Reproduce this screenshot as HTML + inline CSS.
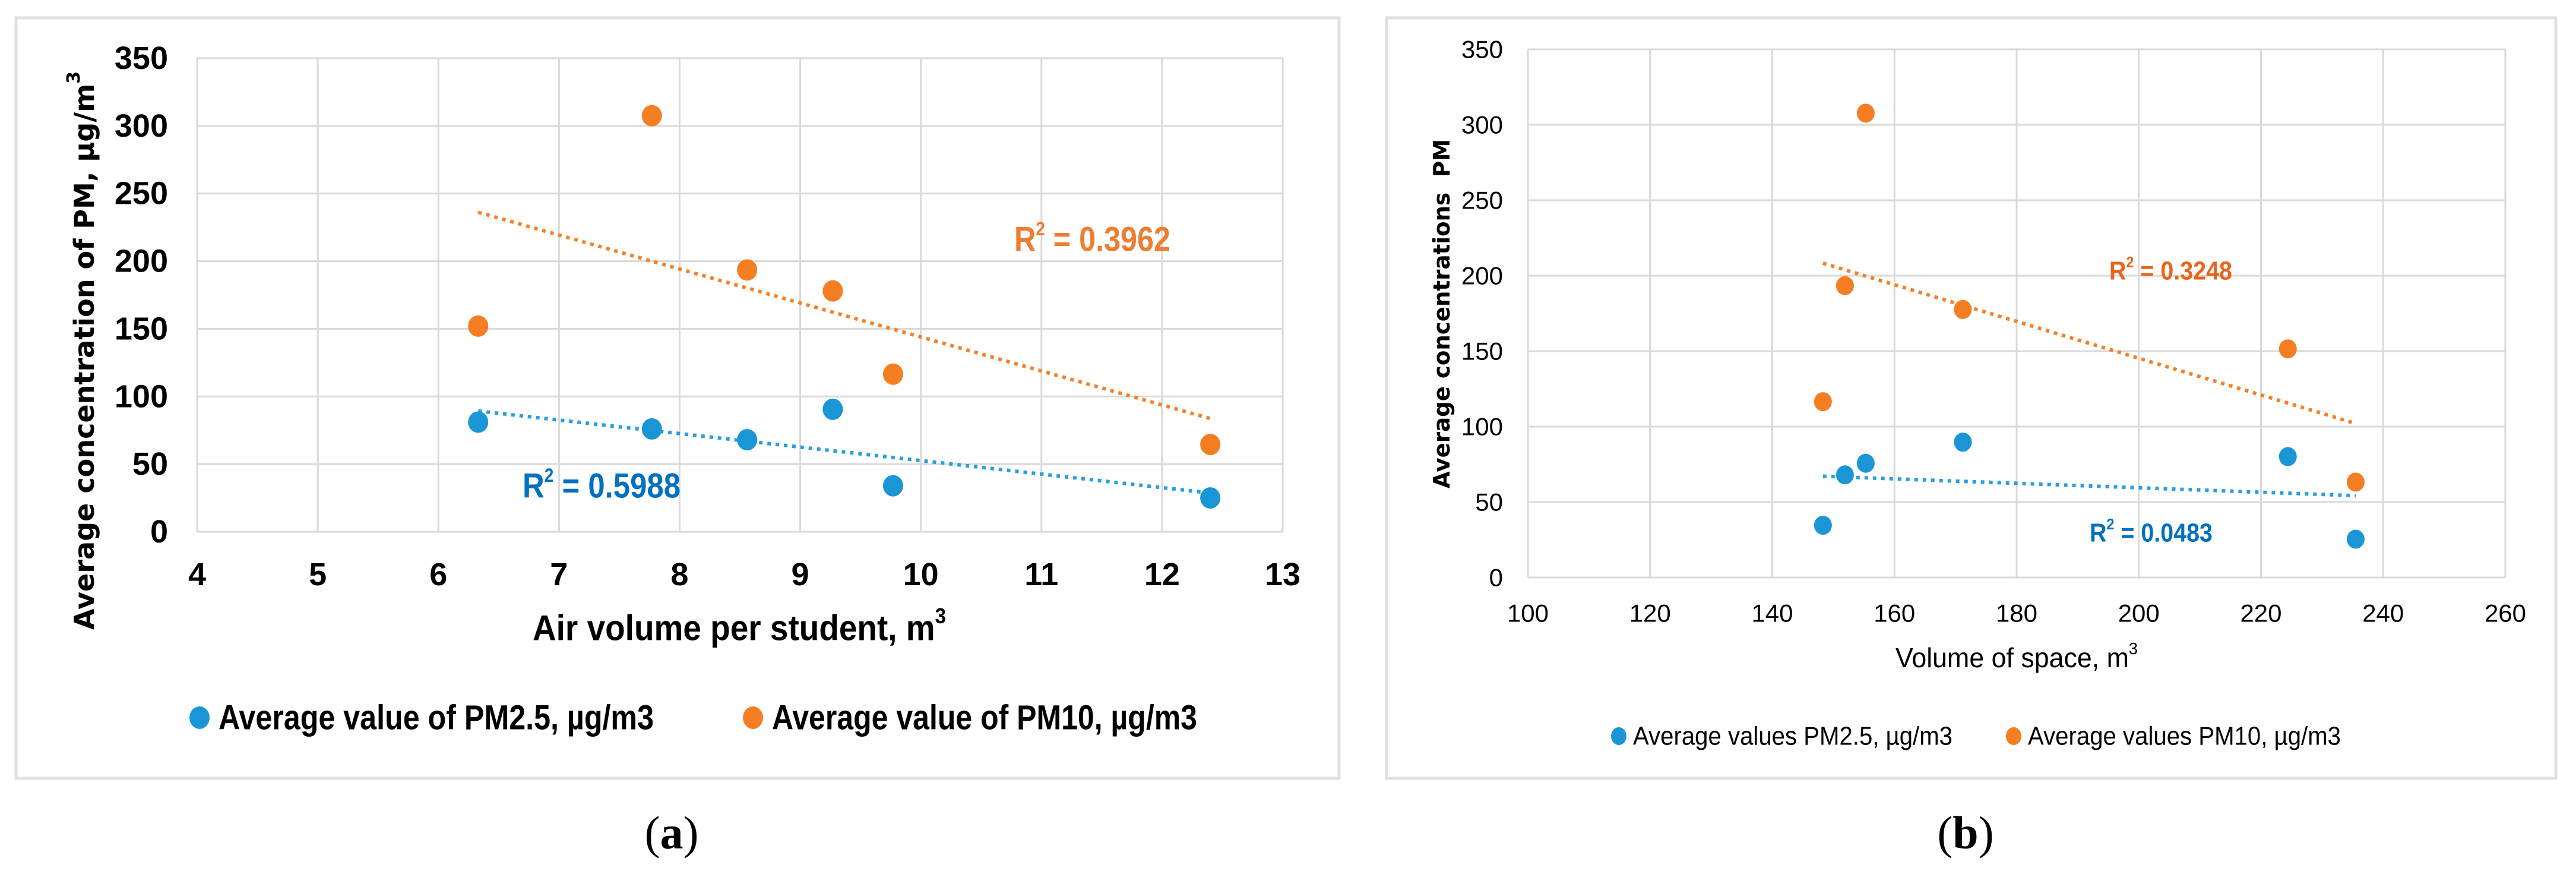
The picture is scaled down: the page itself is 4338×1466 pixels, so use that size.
<!DOCTYPE html>
<html><head><meta charset="utf-8"><style>
html,body{margin:0;padding:0;background:#fff}
svg{display:block}
</style></head><body>
<svg id="fig" xmlns="http://www.w3.org/2000/svg" width="4338" height="1466" viewBox="0 0 4338 1466">
<rect x="0" y="0" width="4338" height="1466" fill="#fff"/>
<rect x="27" y="30" width="2228" height="1280" fill="none" stroke="#e0e0e0" stroke-width="5"/>
<rect x="2335" y="30" width="1969" height="1280" fill="none" stroke="#e0e0e0" stroke-width="5"/>
<text x="1131" y="1428" font-family="Liberation Serif, serif" font-size="78" text-anchor="middle">(<tspan font-weight="bold">a</tspan>)</text>
<text x="3310" y="1428" font-family="Liberation Serif, serif" font-size="78" text-anchor="middle">(<tspan font-weight="bold">b</tspan>)</text>
<g id="ga"></g>
<g id="gb"></g>
</svg>
<script>
// Chart (a) data
const aX = [6.33, 7.77, 8.56, 9.27, 9.77, 12.40];
const aPM25 = [81, 76, 68, 90.5, 34, 25];
const aPM10 = [152, 307.5, 193.5, 178, 116.5, 64.5];
const aXTicks = [4,5,6,7,8,9,10,11,12,13];
const aYTicks = [0,50,100,150,200,250,300,350];
// Chart (b) data
const bX = [148.3, 151.9, 155.3, 171.2, 224.4, 235.5];
const bPM25 = [34.6, 68, 75.7, 89.7, 80.1, 25.4];
const bPM10 = [116.5, 193.4, 307.7, 177.6, 151.5, 63.2];
const bXTicks = [100,120,140,160,180,200,220,240,260];
const bYTicks = [0,50,100,150,200,250,300,350];

const NS = "http://www.w3.org/2000/svg";
const BLUE = "#1a96d6", ORANGE = "#f57d22", TBLUE = "#2a9fdc", TORANGE = "#f58025";
function mk(tag, attrs, parent, txt) {
  const e = document.createElementNS(NS, tag);
  for (const k in attrs) e.setAttribute(k, attrs[k]);
  if (txt !== undefined) e.textContent = txt;
  parent.appendChild(e);
  return e;
}
function fit(xs, ys) {
  const n = xs.length; let sx=0, sy=0, sxx=0, sxy=0;
  for (let i=0;i<n;i++){sx+=xs[i];sy+=ys[i];sxx+=xs[i]*xs[i];sxy+=xs[i]*ys[i];}
  const m = (n*sxy-sx*sy)/(n*sxx-sx*sx); return {m, b:(sy-m*sx)/n};
}
function chart(g, cfg) {
  const sx = v => cfg.x0 + (v - cfg.xmin) / (cfg.xmax - cfg.xmin) * (cfg.x1 - cfg.x0);
  const sy = v => cfg.y0 - (v - cfg.ymin) / (cfg.ymax - cfg.ymin) * (cfg.y0 - cfg.y1);
  cfg.xt.forEach(t => {
    const l = mk('line', {x1:sx(t), x2:sx(t), y1:cfg.y1, y2:cfg.y0, stroke:'#d9d9d9', 'stroke-width':3}, g);
    
    
    const tx = mk('text', {x:sx(t), y:cfg.xly, 'text-anchor':'middle', 'font-family':'Liberation Sans Narrow, Liberation Sans, sans-serif', 'font-size':cfg.tfs, 'font-weight':cfg.tfw, 'dominant-baseline':'central'}, g, t);
    
    
  });
  cfg.yt.forEach(t => {
    const l = mk('line', {x1:cfg.x0, x2:cfg.x1, y1:sy(t), y2:sy(t), stroke:'#d9d9d9', 'stroke-width':3}, g);
    
    
    const tx = mk('text', {x:cfg.ylx, y:sy(t), 'text-anchor':'end', 'font-family':'Liberation Sans Narrow, Liberation Sans, sans-serif', 'font-size':cfg.tfs, 'font-weight':cfg.tfw, 'dominant-baseline':'central'}, g, t);
    
    
  });
  [[cfg.p10, TORANGE, 'pm10-trendline'], [cfg.p25, TBLUE, 'pm25-trendline']].forEach(([ys, c, nm]) => {
    const f = fit(cfg.xs, ys);
    const xa = Math.min(...cfg.xs), xb = Math.max(...cfg.xs);
    const l = mk('line', {x1:sx(xa), y1:sy(f.m*xa+f.b), x2:sx(xb), y2:sy(f.m*xb+f.b), stroke:c, 'stroke-width':6, 'stroke-dasharray':'6 8'}, g);
    
    
  });
  [[cfg.p25, BLUE, 'pm25-point'], [cfg.p10, ORANGE, 'pm10-point']].forEach(([ys, c, nm]) => {
    ys.forEach((v, i) => {
      const e = mk('ellipse', {cx:sx(cfg.xs[i]), cy:sy(v), rx:cfg.r, ry:cfg.r+1, fill:c}, g);
      
      
    });
  });
}
const ga = document.getElementById('ga'), gb = document.getElementById('gb');
chart(ga, {x0:332, x1:2160, y0:895, y1:98, xmin:4, xmax:13, ymin:0, ymax:350, xt:aXTicks, yt:aYTicks, xs:aX, p25:aPM25, p10:aPM10, xly:967, ylx:283, tfs:54, tfw:'bold', r:17});
chart(gb, {x0:2573, x1:4219, y0:972, y1:83, xmin:100, xmax:260, ymin:0, ymax:350, xt:bXTicks, yt:bYTicks, xs:bX, p25:bPM25, p10:bPM10, xly:1032, ylx:2531, tfs:42, tfw:'normal', r:15});
</script>
<script>
(function(){
const svg = document.getElementById('fig');
const NS = "http://www.w3.org/2000/svg";
function t(attrs, html, name) {
  const e = document.createElementNS(NS, 'text');
  for (const k in attrs) e.setAttribute(k, attrs[k]);
  e.innerHTML = html;
  
  
  svg.appendChild(e);
  return e;
}
const N = 'Liberation Sans Narrow, Liberation Sans, sans-serif';
// Panel a texts
t({x:1245, y:1057, 'text-anchor':'middle', 'dominant-baseline':'central', 'font-family':N, 'font-size':60, 'font-weight':'bold', textLength:696, lengthAdjust:'spacingAndGlyphs'}, 'Air volume per student, m<tspan baseline-shift="super" font-size="36">3</tspan>', 'x-axis-title-a');
t({x:0, y:0, transform:'translate(142,590) rotate(-90)', 'text-anchor':'middle', 'dominant-baseline':'central', 'font-family':'DejaVu Sans, sans-serif', 'font-size':46, 'font-weight':'bold', textLength:940, lengthAdjust:'spacingAndGlyphs'}, 'Average concentration of PM, µg/m<tspan baseline-shift="super" font-size="30">3</tspan>', 'y-axis-title-a');
t({x:1708, y:403, 'dominant-baseline':'central', 'font-family':N, 'font-size':58, 'font-weight':'bold', fill:'#ed7d31', textLength:263, lengthAdjust:'spacingAndGlyphs'}, 'R<tspan baseline-shift="super" font-size="32">2</tspan> = 0.3962', 'r2-label-pm10-a');
t({x:880, y:818, 'dominant-baseline':'central', 'font-family':N, 'font-size':58, 'font-weight':'bold', fill:'#0070c0', textLength:266, lengthAdjust:'spacingAndGlyphs'}, 'R<tspan baseline-shift="super" font-size="32">2</tspan> = 0.5988', 'r2-label-pm25-a');
t({x:368, y:1208, 'dominant-baseline':'central', 'font-family':N, 'font-size':58, 'font-weight':'bold', textLength:733, lengthAdjust:'spacingAndGlyphs'}, 'Average value of PM2.5, µg/m3', 'legend-pm25-a');
t({x:1300, y:1208, 'dominant-baseline':'central', 'font-family':N, 'font-size':58, 'font-weight':'bold', textLength:716, lengthAdjust:'spacingAndGlyphs'}, 'Average value of PM10, µg/m3', 'legend-pm10-a');
// Panel b texts
t({x:3396, y:1107, 'text-anchor':'middle', 'dominant-baseline':'central', 'font-family':N, 'font-size':46, textLength:408, lengthAdjust:'spacingAndGlyphs'}, 'Volume of space, m<tspan baseline-shift="super" font-size="28">3</tspan>', 'x-axis-title-b');
t({x:0, y:0, transform:'translate(2428,528) rotate(-90)', 'text-anchor':'middle', 'dominant-baseline':'central', 'font-family':'DejaVu Sans, sans-serif', 'font-size':38, 'font-weight':'bold', textLength:588, lengthAdjust:'spacingAndGlyphs'}, 'Average concentrations&#160;&#160;PM', 'y-axis-title-b');
t({x:3552, y:456, 'dominant-baseline':'central', 'font-family':N, 'font-size':44, 'font-weight':'bold', fill:'#e8651a', textLength:207, lengthAdjust:'spacingAndGlyphs'}, 'R<tspan baseline-shift="super" font-size="26">2</tspan> = 0.3248', 'r2-label-pm10-b');
t({x:3519, y:897, 'dominant-baseline':'central', 'font-family':N, 'font-size':44, 'font-weight':'bold', fill:'#0070c0', textLength:207, lengthAdjust:'spacingAndGlyphs'}, 'R<tspan baseline-shift="super" font-size="26">2</tspan> = 0.0483', 'r2-label-pm25-b');
t({x:2750, y:1239, 'dominant-baseline':'central', 'font-family':N, 'font-size':44, textLength:538, lengthAdjust:'spacingAndGlyphs'}, 'Average values PM2.5, µg/m3', 'legend-pm25-b');
t({x:3415, y:1239, 'dominant-baseline':'central', 'font-family':N, 'font-size':44, textLength:527, lengthAdjust:'spacingAndGlyphs'}, 'Average values PM10, µg/m3', 'legend-pm10-b');
function dot(cx, cy, r, c, name) {
  const e = document.createElementNS(NS, 'ellipse');
  e.setAttribute('cx', cx); e.setAttribute('cy', cy); e.setAttribute('rx', r); e.setAttribute('ry', r + 2); e.setAttribute('fill', c);
  
  
  svg.appendChild(e);
}
dot(336, 1208, 17, '#1a96d6', 'legend-marker-pm25-a');
dot(1268, 1208, 17, '#f57d22', 'legend-marker-pm10-a');
dot(2726, 1239, 13, '#1a96d6', 'legend-marker-pm25-b');
dot(3391, 1239, 13, '#f57d22', 'legend-marker-pm10-b');
})();
</script>
</body></html>
